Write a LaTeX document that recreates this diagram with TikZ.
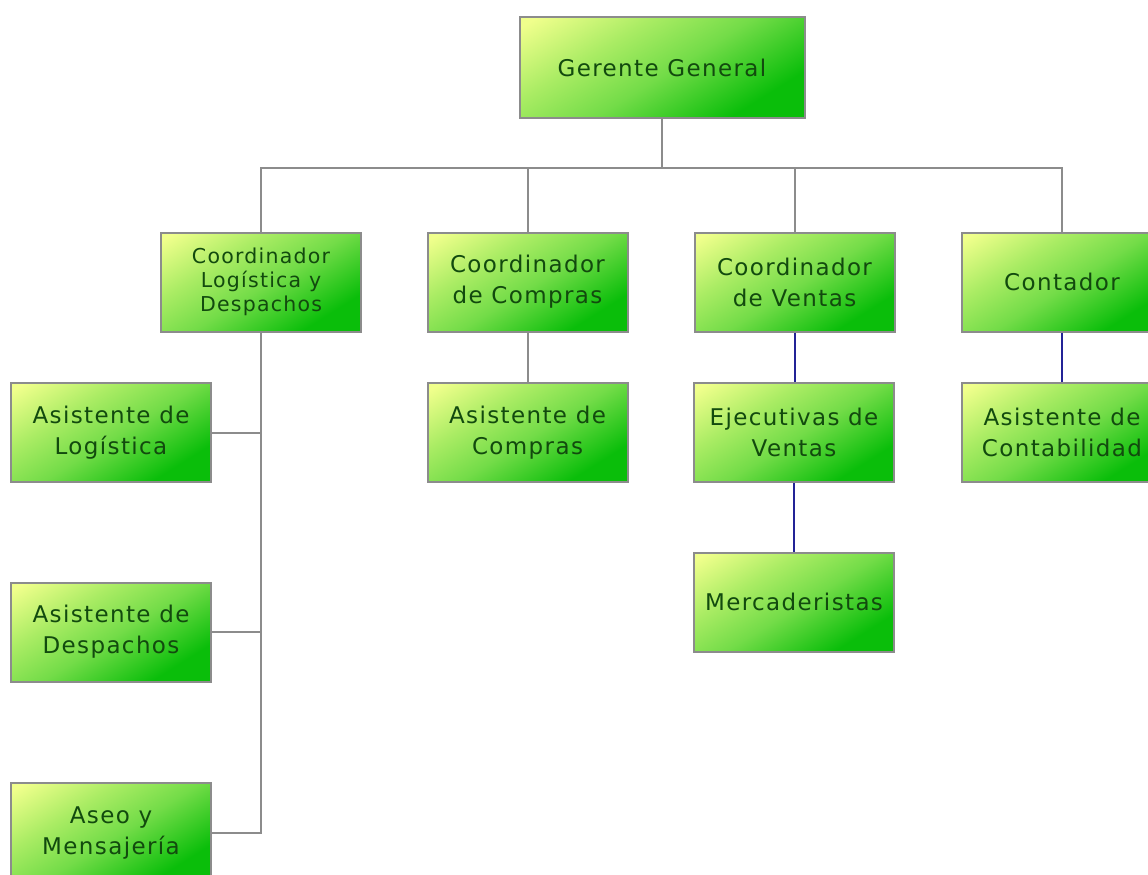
\documentclass[tikz,border=0pt]{standalone}
\usepackage{fontspec}
\setmainfont{DejaVu Sans}[LetterSpace=6]
\definecolor{gA}{RGB}{240,255,140}
\definecolor{gB}{RGB}{170,236,100}
\definecolor{gC}{RGB}{115,220,72}
\definecolor{gD}{RGB}{10,190,10}
\definecolor{txt}{RGB}{18,74,14}
\definecolor{bord}{RGB}{140,140,140}
\definecolor{gline}{RGB}{140,140,140}
\definecolor{bline}{RGB}{35,35,150}
\pgfdeclareverticalshading{boxshade}{100bp}{color(0bp)=(gD); color(27bp)=(gD); color(48bp)=(gC); color(64bp)=(gB); color(82bp)=(gA); color(100bp)=(gA)}
\begin{document}
\begin{tikzpicture}[x=1pt,y=-1pt,
  box/.style={draw=bord, line width=2pt, shading=boxshade, shading angle=32,
    minimum width=200pt, minimum height=99pt, inner sep=0pt, align=center,
    text=txt, font=\fontsize{23}{31}\selectfont},
  small/.style={font=\fontsize{20.5}{24}\selectfont},
  gconn/.style={draw=gline, line width=2pt},
  bconn/.style={draw=bline, line width=2pt}]
\clip (0,0) rectangle (1148,875);
\fill[white] (0,0) rectangle (1148,875);
% nodes
\node[box, minimum width=285pt, minimum height=100pt] (gg) at (662,67.5) {Gerente General};
\node[box, small] (c1) at (261,282) {Coordinador\\Logística y\\Despachos};
\node[box] (c2) at (527.5,282) {Coordinador\\de Compras};
\node[box] (c3) at (794.5,282) {Coordinador\\de Ventas};
\node[box] (c4) at (1062,282) {Contador};
\node[box] (a1) at (111,432.5) {Asistente de\\Logística};
\node[box] (a2) at (527.5,432.5) {Asistente de\\Compras};
\node[box] (e) at (794,432.5) {Ejecutivas de\\Ventas};
\node[box] (a4) at (1062,432.5) {Asistente de\\Contabilidad};
\node[box] (m) at (794,602) {Mercaderistas};
\node[box] (d) at (111,632) {Asistente de\\Despachos};
\node[box] (s) at (111,832.5) {Aseo y\\Mensajería};
% bus
\coordinate (bus) at (662,168);
\draw[gconn] (gg.south) -- (bus);
\draw[gconn] (c1.north) -- (c1.north |- bus) -- (c4.north |- bus) -- (c4.north);
\draw[gconn] (c2.north) -- (c2.north |- bus);
\draw[gconn] (c3.north) -- (c3.north |- bus);
% left trunk
\draw[gconn] (c1.south) -- (c1.south |- s.east) -- (s.east);
\draw[gconn] (a1.east) -- (a1.east -| c1.south);
\draw[gconn] (d.east) -- (d.east -| c1.south);
% others
\draw[gconn] (c2.south) -- (a2.north);
\draw[bconn] (c3.south) -- (c3.south |- e.north);
\draw[bconn] (e.south) -- (m.north);
\draw[bconn] (c4.south) -- (a4.north);
\end{tikzpicture}
\end{document}
